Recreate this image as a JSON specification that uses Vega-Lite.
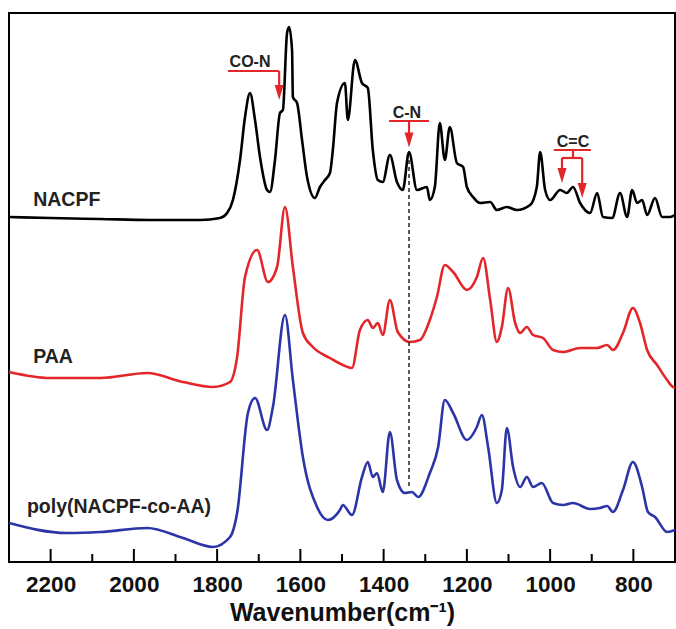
{
  "$schema": "https://vega.github.io/schema/vega-lite/v6.json",
  "width": 666,
  "height": 549,
  "autosize": {"type": "none"},
  "padding": {"left": 9, "top": 13, "right": 1, "bottom": 67},
  "background": "white",
  "config": {
    "view": {"stroke": "#000", "strokeWidth": 2},
    "font": "Liberation Sans"
  },
  "datasets": {
    "spec": [
      {"s": "NACPF", "w": 2300, "v": 345}, {"s": "NACPF", "w": 2201, "v": 344}, {"s": "NACPF", "w": 2081, "v": 343}, {"s": "NACPF", "w": 1961, "v": 342}, {"s": "NACPF", "w": 1841, "v": 342}, {"s": "NACPF", "w": 1793, "v": 344}, {"s": "NACPF", "w": 1776, "v": 349}, {"s": "NACPF", "w": 1762, "v": 362}, {"s": "NACPF", "w": 1745, "v": 402}, {"s": "NACPF", "w": 1733, "v": 445}, {"s": "NACPF", "w": 1721, "v": 469}, {"s": "NACPF", "w": 1709, "v": 442}, {"s": "NACPF", "w": 1697, "v": 405}, {"s": "NACPF", "w": 1680, "v": 372}, {"s": "NACPF", "w": 1673, "v": 370}, {"s": "NACPF", "w": 1661, "v": 402}, {"s": "NACPF", "w": 1649, "v": 449}, {"s": "NACPF", "w": 1642, "v": 452}, {"s": "NACPF", "w": 1632, "v": 529}, {"s": "NACPF", "w": 1627, "v": 535}, {"s": "NACPF", "w": 1620, "v": 512}, {"s": "NACPF", "w": 1618, "v": 465}, {"s": "NACPF", "w": 1608, "v": 459}, {"s": "NACPF", "w": 1596, "v": 422}, {"s": "NACPF", "w": 1584, "v": 385}, {"s": "NACPF", "w": 1565, "v": 364}, {"s": "NACPF", "w": 1553, "v": 375}, {"s": "NACPF", "w": 1541, "v": 382}, {"s": "NACPF", "w": 1529, "v": 389}, {"s": "NACPF", "w": 1522, "v": 412}, {"s": "NACPF", "w": 1512, "v": 459}, {"s": "NACPF", "w": 1493, "v": 479}, {"s": "NACPF", "w": 1486, "v": 442}, {"s": "NACPF", "w": 1469, "v": 502}, {"s": "NACPF", "w": 1452, "v": 479}, {"s": "NACPF", "w": 1438, "v": 474}, {"s": "NACPF", "w": 1426, "v": 412}, {"s": "NACPF", "w": 1414, "v": 382}, {"s": "NACPF", "w": 1402, "v": 380}, {"s": "NACPF", "w": 1385, "v": 407}, {"s": "NACPF", "w": 1368, "v": 380}, {"s": "NACPF", "w": 1354, "v": 372}, {"s": "NACPF", "w": 1339, "v": 410}, {"s": "NACPF", "w": 1320, "v": 372}, {"s": "NACPF", "w": 1296, "v": 375}, {"s": "NACPF", "w": 1289, "v": 362}, {"s": "NACPF", "w": 1277, "v": 375}, {"s": "NACPF", "w": 1265, "v": 439}, {"s": "NACPF", "w": 1253, "v": 402}, {"s": "NACPF", "w": 1241, "v": 435}, {"s": "NACPF", "w": 1224, "v": 399}, {"s": "NACPF", "w": 1209, "v": 395}, {"s": "NACPF", "w": 1200, "v": 375}, {"s": "NACPF", "w": 1185, "v": 365}, {"s": "NACPF", "w": 1168, "v": 359}, {"s": "NACPF", "w": 1144, "v": 360}, {"s": "NACPF", "w": 1128, "v": 352}, {"s": "NACPF", "w": 1104, "v": 355}, {"s": "NACPF", "w": 1080, "v": 352}, {"s": "NACPF", "w": 1048, "v": 357}, {"s": "NACPF", "w": 1032, "v": 375}, {"s": "NACPF", "w": 1024, "v": 410}, {"s": "NACPF", "w": 1012, "v": 372}, {"s": "NACPF", "w": 1000, "v": 362}, {"s": "NACPF", "w": 976, "v": 372}, {"s": "NACPF", "w": 960, "v": 369}, {"s": "NACPF", "w": 945, "v": 375}, {"s": "NACPF", "w": 928, "v": 359}, {"s": "NACPF", "w": 904, "v": 349}, {"s": "NACPF", "w": 887, "v": 369}, {"s": "NACPF", "w": 873, "v": 345}, {"s": "NACPF", "w": 851, "v": 344}, {"s": "NACPF", "w": 832, "v": 369}, {"s": "NACPF", "w": 815, "v": 345}, {"s": "NACPF", "w": 803, "v": 372}, {"s": "NACPF", "w": 791, "v": 359}, {"s": "NACPF", "w": 779, "v": 362}, {"s": "NACPF", "w": 767, "v": 347}, {"s": "NACPF", "w": 748, "v": 364}, {"s": "NACPF", "w": 731, "v": 345}, {"s": "NACPF", "w": 712, "v": 345}, {"s": "NACPF", "w": 700, "v": 347},
      {"s": "PAA", "w": 2300, "v": 190}, {"s": "PAA", "w": 2201, "v": 184}, {"s": "PAA", "w": 2081, "v": 184}, {"s": "PAA", "w": 1968, "v": 189}, {"s": "PAA", "w": 1882, "v": 180}, {"s": "PAA", "w": 1810, "v": 175}, {"s": "PAA", "w": 1769, "v": 180}, {"s": "PAA", "w": 1752, "v": 205}, {"s": "PAA", "w": 1733, "v": 285}, {"s": "PAA", "w": 1704, "v": 312}, {"s": "PAA", "w": 1678, "v": 280}, {"s": "PAA", "w": 1656, "v": 295}, {"s": "PAA", "w": 1637, "v": 355}, {"s": "PAA", "w": 1618, "v": 295}, {"s": "PAA", "w": 1594, "v": 229}, {"s": "PAA", "w": 1570, "v": 215}, {"s": "PAA", "w": 1529, "v": 204}, {"s": "PAA", "w": 1498, "v": 197}, {"s": "PAA", "w": 1476, "v": 194}, {"s": "PAA", "w": 1457, "v": 232}, {"s": "PAA", "w": 1438, "v": 242}, {"s": "PAA", "w": 1426, "v": 234}, {"s": "PAA", "w": 1414, "v": 239}, {"s": "PAA", "w": 1402, "v": 227}, {"s": "PAA", "w": 1385, "v": 262}, {"s": "PAA", "w": 1366, "v": 230}, {"s": "PAA", "w": 1337, "v": 220}, {"s": "PAA", "w": 1313, "v": 222}, {"s": "PAA", "w": 1289, "v": 242}, {"s": "PAA", "w": 1272, "v": 265}, {"s": "PAA", "w": 1253, "v": 297}, {"s": "PAA", "w": 1233, "v": 290}, {"s": "PAA", "w": 1200, "v": 272}, {"s": "PAA", "w": 1176, "v": 285}, {"s": "PAA", "w": 1161, "v": 304}, {"s": "PAA", "w": 1144, "v": 262}, {"s": "PAA", "w": 1128, "v": 220}, {"s": "PAA", "w": 1116, "v": 235}, {"s": "PAA", "w": 1101, "v": 274}, {"s": "PAA", "w": 1084, "v": 239}, {"s": "PAA", "w": 1072, "v": 229}, {"s": "PAA", "w": 1056, "v": 235}, {"s": "PAA", "w": 1041, "v": 227}, {"s": "PAA", "w": 1017, "v": 224}, {"s": "PAA", "w": 993, "v": 212}, {"s": "PAA", "w": 969, "v": 210}, {"s": "PAA", "w": 928, "v": 214}, {"s": "PAA", "w": 887, "v": 214}, {"s": "PAA", "w": 863, "v": 217}, {"s": "PAA", "w": 849, "v": 212}, {"s": "PAA", "w": 825, "v": 229}, {"s": "PAA", "w": 801, "v": 254}, {"s": "PAA", "w": 784, "v": 239}, {"s": "PAA", "w": 767, "v": 212}, {"s": "PAA", "w": 743, "v": 197}, {"s": "PAA", "w": 719, "v": 182}, {"s": "PAA", "w": 705, "v": 175}, {"s": "PAA", "w": 700, "v": 174},
      {"s": "poly", "w": 2300, "v": 39}, {"s": "poly", "w": 2161, "v": 29}, {"s": "poly", "w": 2081, "v": 30}, {"s": "poly", "w": 1968, "v": 34}, {"s": "poly", "w": 1882, "v": 24}, {"s": "poly", "w": 1810, "v": 15}, {"s": "poly", "w": 1769, "v": 25}, {"s": "poly", "w": 1752, "v": 49}, {"s": "poly", "w": 1726, "v": 149}, {"s": "poly", "w": 1709, "v": 164}, {"s": "poly", "w": 1680, "v": 132}, {"s": "poly", "w": 1666, "v": 155}, {"s": "poly", "w": 1637, "v": 247}, {"s": "poly", "w": 1618, "v": 182}, {"s": "poly", "w": 1594, "v": 105}, {"s": "poly", "w": 1560, "v": 55}, {"s": "poly", "w": 1534, "v": 42}, {"s": "poly", "w": 1505, "v": 52}, {"s": "poly", "w": 1498, "v": 57}, {"s": "poly", "w": 1476, "v": 47}, {"s": "poly", "w": 1452, "v": 85}, {"s": "poly", "w": 1438, "v": 100}, {"s": "poly", "w": 1426, "v": 85}, {"s": "poly", "w": 1416, "v": 89}, {"s": "poly", "w": 1402, "v": 70}, {"s": "poly", "w": 1385, "v": 130}, {"s": "poly", "w": 1368, "v": 82}, {"s": "poly", "w": 1349, "v": 69}, {"s": "poly", "w": 1332, "v": 70}, {"s": "poly", "w": 1317, "v": 65}, {"s": "poly", "w": 1289, "v": 89}, {"s": "poly", "w": 1269, "v": 115}, {"s": "poly", "w": 1253, "v": 162}, {"s": "poly", "w": 1233, "v": 149}, {"s": "poly", "w": 1200, "v": 122}, {"s": "poly", "w": 1176, "v": 135}, {"s": "poly", "w": 1164, "v": 147}, {"s": "poly", "w": 1149, "v": 115}, {"s": "poly", "w": 1128, "v": 59}, {"s": "poly", "w": 1116, "v": 72}, {"s": "poly", "w": 1104, "v": 134}, {"s": "poly", "w": 1089, "v": 95}, {"s": "poly", "w": 1072, "v": 75}, {"s": "poly", "w": 1056, "v": 85}, {"s": "poly", "w": 1041, "v": 75}, {"s": "poly", "w": 1020, "v": 79}, {"s": "poly", "w": 993, "v": 59}, {"s": "poly", "w": 969, "v": 57}, {"s": "poly", "w": 945, "v": 59}, {"s": "poly", "w": 904, "v": 53}, {"s": "poly", "w": 880, "v": 54}, {"s": "poly", "w": 863, "v": 56}, {"s": "poly", "w": 849, "v": 50}, {"s": "poly", "w": 825, "v": 72}, {"s": "poly", "w": 801, "v": 100}, {"s": "poly", "w": 779, "v": 75}, {"s": "poly", "w": 765, "v": 50}, {"s": "poly", "w": 748, "v": 45}, {"s": "poly", "w": 719, "v": 30}, {"s": "poly", "w": 700, "v": 32}
    ],
    "segs": [
      {"x1": 1774, "x2": 1651, "y1": 491, "y2": 491},
      {"x1": 1651, "x2": 1651, "y1": 491, "y2": 475},
      {"x1": 1387, "x2": 1291, "y1": 441, "y2": 441},
      {"x1": 1339, "x2": 1339, "y1": 441, "y2": 428},
      {"x1": 991, "x2": 902, "y1": 412, "y2": 412},
      {"x1": 945, "x2": 945, "y1": 412, "y2": 404},
      {"x1": 971.5, "x2": 923, "y1": 404, "y2": 404},
      {"x1": 971.5, "x2": 971.5, "y1": 404, "y2": 392},
      {"x1": 923, "x2": 923, "y1": 404, "y2": 377}
    ],
    "arrows": [
      {"w": 1651, "v": 469.5},
      {"w": 1339, "v": 422},
      {"w": 971.5, "v": 386.5},
      {"w": 923, "v": 371.5}
    ],
    "notes": [
      {"w": 1721, "v": 500, "t": "CO-N"},
      {"w": 1344, "v": 449, "t": "C-N"},
      {"w": 945, "v": 420, "t": "C=C"}
    ],
    "names": [
      {"w": 2242, "v": 362, "t": "NACPF"},
      {"w": 2242, "v": 205, "t": "PAA"},
      {"w": 2257, "v": 55, "t": "poly(NACPF-co-AA)"}
    ],
    "major": [{"w": 2200}, {"w": 2000}, {"w": 1800}, {"w": 1600}, {"w": 1400}, {"w": 1200}, {"w": 1000}, {"w": 800}],
    "minor": [{"w": 2100}, {"w": 1900}, {"w": 1700}, {"w": 1500}, {"w": 1300}, {"w": 1100}, {"w": 900}]
  },
  "layer": [
    {
      "data": {"name": "spec"},
      "mark": {"type": "line", "strokeWidth": 2.6, "interpolate": "monotone"},
      "encoding": {
        "x": {
          "field": "w", "type": "quantitative",
          "scale": {"domain": [2300, 700], "nice": false, "zero": false},
          "axis": {
            "title": "Wavenumber(cm⁻¹)",
            "values": [2200, 2000, 1800, 1600, 1400, 1200, 1000, 800],
            "format": "d",
            "domain": false,
            "grid": false,
            "ticks": false,
            "labelFontSize": 22.5,
            "labelFontWeight": "bold",
            "labelColor": "#111",
            "labelPadding": 11,
            "labelFlush": false,
            "titleFontSize": 25,
            "titleFontWeight": "bold",
            "titleColor": "#111",
            "titlePadding": 5
          }
        },
        "y": {"field": "v", "type": "quantitative", "scale": {"domain": [0, 549], "nice": false}, "axis": null},
        "color": {"field": "s", "type": "nominal", "scale": {"domain": ["NACPF", "PAA", "poly"], "range": ["#000000", "#e3262a", "#2b35a8"]}, "legend": null}
      }
    },
    {
      "data": {"name": "major"},
      "mark": {"type": "rule", "color": "#000", "strokeWidth": 2},
      "encoding": {
        "x": {"field": "w", "type": "quantitative"},
        "y": {"datum": 0},
        "y2": {"datum": 13}
      }
    },
    {
      "data": {"name": "minor"},
      "mark": {"type": "rule", "color": "#000", "strokeWidth": 2},
      "encoding": {
        "x": {"field": "w", "type": "quantitative"},
        "y": {"datum": 0},
        "y2": {"datum": 8}
      }
    },
    {
      "data": {"values": [{"w": 1339, "a": 402, "b": 75}]},
      "mark": {"type": "rule", "color": "#222", "strokeWidth": 1.5, "strokeDash": [4, 3]},
      "encoding": {
        "x": {"field": "w", "type": "quantitative"},
        "y": {"field": "a", "type": "quantitative"},
        "y2": {"field": "b"}
      }
    },
    {
      "data": {"name": "segs"},
      "mark": {"type": "rule", "color": "#e3262a", "strokeWidth": 2.2},
      "encoding": {
        "x": {"field": "x1", "type": "quantitative"},
        "x2": {"field": "x2"},
        "y": {"field": "y1", "type": "quantitative"},
        "y2": {"field": "y2"}
      }
    },
    {
      "data": {"name": "arrows"},
      "mark": {"type": "point", "shape": "M-0.6,-1L0.6,-1L0,1Z", "filled": true, "color": "#e3262a", "size": 225, "opacity": 1},
      "encoding": {
        "x": {"field": "w", "type": "quantitative"},
        "y": {"field": "v", "type": "quantitative"}
      }
    },
    {
      "data": {"name": "notes"},
      "mark": {"type": "text", "fontSize": 16, "fontWeight": "bold", "color": "#222", "align": "center", "baseline": "middle"},
      "encoding": {
        "x": {"field": "w", "type": "quantitative"},
        "y": {"field": "v", "type": "quantitative"},
        "text": {"field": "t"}
      }
    },
    {
      "data": {"name": "names"},
      "mark": {"type": "text", "fontSize": 19.5, "fontWeight": "bold", "color": "#222", "align": "left", "baseline": "middle"},
      "encoding": {
        "x": {"field": "w", "type": "quantitative"},
        "y": {"field": "v", "type": "quantitative"},
        "text": {"field": "t"}
      }
    }
  ]
}
